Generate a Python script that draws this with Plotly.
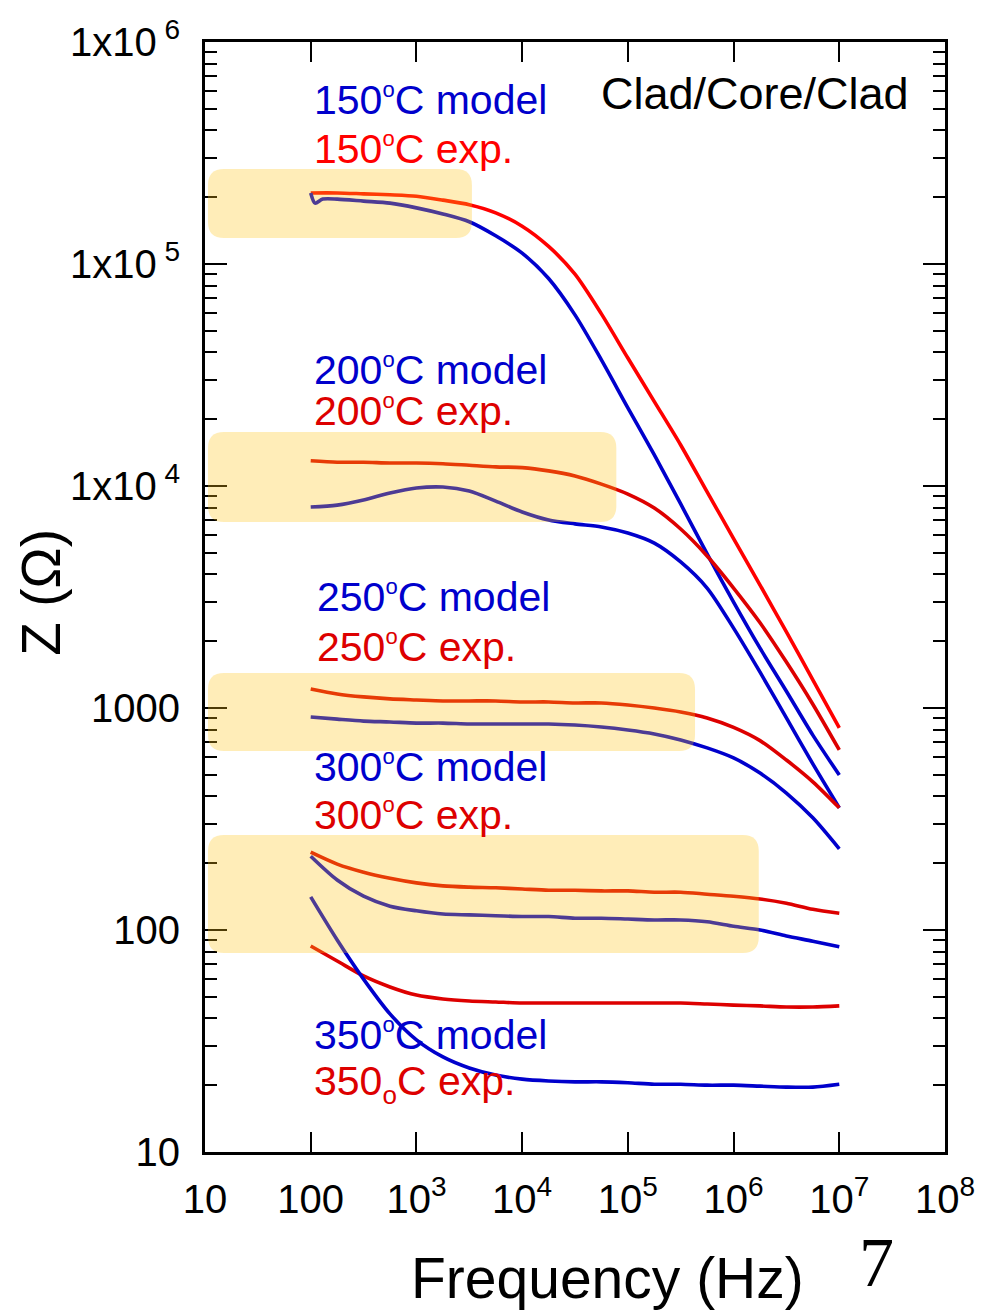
import plotly.graph_objects as go

# ---------------- data ----------------
freq = [100, 178, 316, 562, 1e3, 1.78e3, 3.16e3, 5.62e3, 1e4, 1.78e4, 3.16e4,
        5.62e4, 1e5, 1.78e5, 3.16e5, 5.62e5, 1e6, 1.78e6, 3.16e6, 5.62e6, 1e7]
freq_150_model = [100, 110, 130] + freq[1:]

z150_exp = [2.09e5, 2.09e5, 2.07e5, 2.05e5, 2.02e5, 1.94e5, 1.85e5, 1.70e5, 1.48e5, 1.20e5,
            9.0e4, 5.96e4, 3.77e4, 2.40e4, 1.53e4, 9.4e3, 5.8e3, 3.58e3, 2.20e3, 1.34e3, 813]
z150_model = [2.09e5, 1.88e5, 1.96e5, 1.96e5, 1.92e5, 1.88e5, 1.79e5, 1.68e5, 1.55e5, 1.34e5,
              1.12e5, 8.6e4, 5.9e4, 3.7e4, 2.25e4, 1.38e4, 8.3e3, 4.95e3, 3.0e3, 1.86e3,
              1.19e3, 755, 499]
z200_exp = [1.30e4, 1.28e4, 1.28e4, 1.27e4, 1.27e4, 1.26e4, 1.24e4, 1.22e4, 1.21e4, 1.17e4,
            1.11e4, 1.02e4, 9.2e3, 7.96e3, 6.40e3, 4.84e3, 3.47e3, 2.42e3, 1.61e3, 1.04e3, 647]
z200_model = [8.04e3, 8.2e3, 8.65e3, 9.3e3, 9.79e3, 9.89e3, 9.49e3, 8.55e3, 7.64e3, 7.03e3,
              6.75e3, 6.54e3, 6.14e3, 5.53e3, 4.55e3, 3.47e3, 2.29e3, 1.45e3, 902, 560, 355]
z250_exp = [1219, 1157, 1122, 1099, 1087, 1076, 1076, 1076, 1065, 1065, 1054, 1054, 1032,
            1000, 960, 902, 818, 713, 583, 465, 355]
z250_model = [911, 891, 873, 865, 855, 855, 847, 847, 847, 847, 838, 821, 796, 764, 718, 661,
              596, 509, 414, 320, 232]
z300_exp = [224, 198, 182, 171, 163, 158, 156, 155, 153, 151, 151, 150, 150, 148, 148, 145,
            142, 138, 132, 124, 119]
z300_model = [215, 168, 142, 128, 122, 118, 117, 116, 115, 115, 113, 113, 112, 111, 111, 109,
              104, 100, 94, 89, 84]
z350_exp = [84.7, 72.5, 62.1, 55.4, 50.9, 48.9, 47.9, 47.4, 46.9, 46.9, 46.9, 46.9, 46.9,
            46.9, 46.9, 46.4, 45.9, 45.5, 45.0, 45.0, 45.5]
z350_model = [141, 90.2, 60.1, 41.9, 32.0, 26.8, 23.9, 22.2, 21.3, 20.9, 20.7, 20.7, 20.5,
              20.2, 20.2, 20.0, 20.0, 19.8, 19.6, 19.6, 20.2]

x_tickvals = [10, 100, 1e3, 1e4, 1e5, 1e6, 1e7, 1e8]
x_ticktext = ["10", "100", "10<sup>3</sup>", "10<sup>4</sup>", "10<sup>5</sup>",
              "10<sup>6</sup>", "10<sup>7</sup>", "10<sup>8</sup>"]
y_tickvals = [10, 100, 1000, 1e4, 1e5, 1e6]
y_ticktext = ["10", "100", "1000", "1x10<sup> 4</sup>", "1x10<sup> 5</sup>", "1x10<sup> 6</sup>"]
y_minor = [m * 10 ** k for k in range(1, 6) for m in range(2, 10)]

DEG = '<sup><span style="font-size:22px">o</span></sup>'
SUBO = '<sub><span style="font-size:26px">o</span></sub>'
labels = [  # text, colour, y position (pixel of text centre), x position
    ("150" + DEG + "C model", "#0000CC", 100, 312),
    ("150" + DEG + "C exp.", "#FF0000", 149, 312),
    ("200" + DEG + "C model", "#0000CC", 370, 312),
    ("200" + DEG + "C exp.", "#DD0000", 411, 312),
    ("250" + DEG + "C model", "#0000CC", 597, 315),
    ("250" + DEG + "C exp.", "#DD0000", 647, 315),
    ("300" + DEG + "C model", "#0000CC", 767, 312),
    ("300" + DEG + "C exp.", "#DD0000", 815, 312),
    ("350" + DEG + "C model", "#0000CC", 1035, 312),
    ("350" + SUBO + "C exp.", "#DD0000", 1084, 312),
]

# ---------------- figure ----------------
W, H = 987, 1313
L, R, T, B = 205, 39, 42, 161
PW, PH = W - L - R, H - T - B

def px(x):
    return (x - L) / PW

def py(y):
    return (H - B - y) / PH

BLUE = "#0000CC"
RED1 = "#FF0000"
RED2 = "#DD0000"

fig = go.Figure()
series = [
    (freq, z150_exp, RED1), (freq_150_model, z150_model, BLUE),
    (freq, z200_exp, RED2), (freq, z200_model, BLUE),
    (freq, z250_exp, RED2), (freq, z250_model, BLUE),
    (freq, z300_exp, RED2), (freq, z300_model, BLUE),
    (freq, z350_exp, RED2), (freq, z350_model, BLUE),
]
for fx, zy, c in series:
    fig.add_trace(go.Scatter(x=fx, y=zy, mode="lines",
                             line=dict(color=c, width=3.6, shape="spline", smoothing=0.8),
                             showlegend=False, hoverinfo="skip"))

# translucent rounded boxes (overlay, drawn above curves)
boxes = [(208, 169, 473, 238), (208, 432, 618, 522), (208, 673, 697, 751), (208, 835, 761, 953)]
r = 16
for x0, y0, x1, y1 in boxes:
    path = (f"M {px(x0 + r)} {py(y0)} L {px(x1 - r)} {py(y0)} "
            f"Q {px(x1)} {py(y0)} {px(x1)} {py(y0 + r)} "
            f"L {px(x1)} {py(y1 - r)} Q {px(x1)} {py(y1)} {px(x1 - r)} {py(y1)} "
            f"L {px(x0 + r)} {py(y1)} Q {px(x0)} {py(y1)} {px(x0)} {py(y1 - r)} "
            f"L {px(x0)} {py(y0 + r)} Q {px(x0)} {py(y0)} {px(x0 + r)} {py(y0)} Z")
    fig.add_shape(type="path", path=path, xref="paper", yref="paper",
                  fillcolor="rgba(255,195,20,0.30)", line=dict(width=0), layer="above")

FONT = "Liberation Sans, Arial, sans-serif"
for text, col, ypix, xpix in labels:
    fig.add_annotation(x=px(xpix), y=py(ypix), xref="paper", yref="paper", text=text,
                       showarrow=False, xanchor="left", yanchor="middle",
                       font=dict(family=FONT, size=41, color=col))

fig.add_annotation(x=px(914), y=py(94), xref="paper", yref="paper", text="Clad/Core/Clad",
                   showarrow=False, xanchor="right", yanchor="middle",
                   font=dict(family=FONT, size=45, color="black"))
fig.add_annotation(x=px(609), y=py(1278), xref="paper", yref="paper", text="Frequency (Hz)",
                   showarrow=False, xanchor="center", yanchor="middle",
                   font=dict(family=FONT, size=57, color="black"))
fig.add_annotation(x=px(879), y=py(1262), xref="paper", yref="paper", text="7",
                   showarrow=False, xanchor="center", yanchor="middle",
                   font=dict(family="Liberation Serif, Times New Roman, serif", size=70, color="black"))
fig.add_annotation(x=px(40), y=py(592), xref="paper", yref="paper", text="Z (Ω)",
                   showarrow=False, xanchor="center", yanchor="middle", textangle=-90,
                   font=dict(family=FONT, size=55, color="black"))

fig.update_xaxes(type="log", range=[1, 8], tickmode="array", tickvals=x_tickvals,
                 ticktext=x_ticktext, ticks="inside", ticklen=20, tickwidth=2, tickcolor="black",
                 showline=True, linewidth=3, linecolor="black", mirror="allticks",
                 showgrid=False, zeroline=False, ticklabelstandoff=10,
                 tickfont=dict(family=FONT, size=40, color="black"))
fig.update_yaxes(type="log", range=[1, 6], tickmode="array", tickvals=y_tickvals,
                 ticktext=y_ticktext, ticks="inside", ticklen=22, tickwidth=2, tickcolor="black",
                 showline=True, linewidth=3, linecolor="black", mirror="allticks",
                 showgrid=False, zeroline=False, ticklabelstandoff=14,
                 tickfont=dict(family=FONT, size=40, color="black"),
                 minor=dict(tickmode="array", tickvals=y_minor, ticks="inside", ticklen=12,
                            tickwidth=2, tickcolor="black", showgrid=False))

fig.update_layout(width=W, height=H, margin=dict(l=L, r=R, t=T, b=B, pad=0),
                  plot_bgcolor="white", paper_bgcolor="white", showlegend=False)

fig.write_html("out.html", config={"displayModeBar": False},
               post_script="document.body.style.margin='0';document.body.style.padding='0';"
                           "document.body.style.overflow='hidden';")
